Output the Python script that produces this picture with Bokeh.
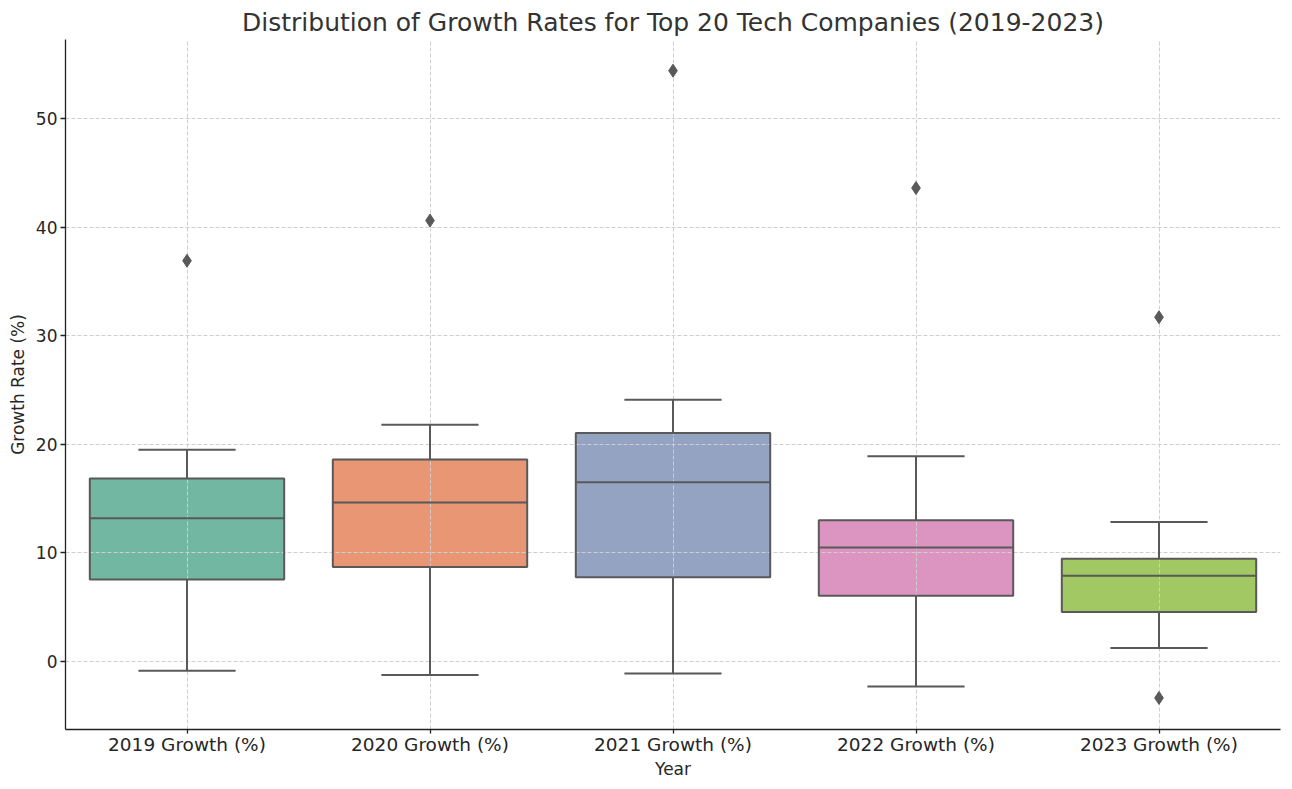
from bokeh.plotting import figure
from bokeh.models import FactorRange, Range1d, FixedTicker, ColumnDataSource
from bokeh.transform import dodge
from bokeh.embed import file_html
from bokeh.resources import INLINE

categories = ["2019 Growth (%)", "2020 Growth (%)", "2021 Growth (%)", "2022 Growth (%)", "2023 Growth (%)"]
whisker_low = [-0.85, -1.25, -1.1, -2.3, 1.25]
q1 = [7.55, 8.7, 7.75, 6.05, 4.55]
median = [13.2, 14.65, 16.5, 10.5, 7.9]
q3 = [16.85, 18.6, 21.05, 13.0, 9.45]
whisker_high = [19.5, 21.8, 24.1, 18.9, 12.85]
outlier_cat = ["2019 Growth (%)", "2020 Growth (%)", "2021 Growth (%)", "2022 Growth (%)", "2023 Growth (%)", "2023 Growth (%)"]
outlier_val = [36.9, 40.6, 54.4, 43.6, 31.7, -3.35]
colors = ["#71b7a1", "#e99675", "#95a3c3", "#db95c0", "#a2c864"]

LINE = "#595959"
FONT = "DejaVu Sans"

p = figure(frame_width=1215, frame_height=690, x_range=FactorRange(*categories, range_padding=0),
           y_range=Range1d(-6.26, 57.27), output_backend="svg", toolbar_location=None,
           min_border_left=65, min_border_right=4, min_border_top=39, min_border_bottom=48)

p.title.text = "Distribution of Growth Rates for Top 20 Tech Companies (2019-2023)"
p.title.align = "center"
p.title.text_font = FONT
p.title.text_font_size = "25px"
p.title.text_font_style = "normal"
p.title.text_color = "#333333"
p.title.offset = 0
p.title.standoff = 6

src = ColumnDataSource(dict(cat=categories, lo=whisker_low, q1=q1, med=median, q3=q3, hi=whisker_high, color=colors))

p.vbar(x="cat", width=0.8, bottom="q1", top="q3", fill_color="color", line_color=None, source=src, level="image")
p.segment(x0="cat", y0="lo", x1="cat", y1="q1", line_color=LINE, line_width=2, source=src)
p.segment(x0="cat", y0="q3", x1="cat", y1="hi", line_color=LINE, line_width=2, source=src)
p.vbar(x="cat", width=0.8, bottom="q1", top="q3", fill_color=None, line_color=LINE, line_width=2, source=src)
p.segment(x0=dodge("cat", -0.4, range=p.x_range), x1=dodge("cat", 0.4, range=p.x_range), y0="med", y1="med",
          line_color=LINE, line_width=2, source=src)
p.segment(x0=dodge("cat", -0.2, range=p.x_range), x1=dodge("cat", 0.2, range=p.x_range), y0="lo", y1="lo",
          line_color=LINE, line_width=2, source=src)
p.segment(x0=dodge("cat", -0.2, range=p.x_range), x1=dodge("cat", 0.2, range=p.x_range), y0="hi", y1="hi",
          line_color=LINE, line_width=2, source=src)
p.scatter(x=outlier_cat, y=outlier_val, marker="diamond", size=13, fill_color=LINE, line_color=LINE)

p.outline_line_color = None
p.background_fill_color = "white"
p.border_fill_color = "white"

for g in (p.xgrid, p.ygrid):
    g.grid_line_color = "#cfcfcf"
    g.grid_line_dash = "4 2"
    g.grid_line_width = 1
    g.level = "underlay"

p.yaxis.ticker = FixedTicker(ticks=[0, 10, 20, 30, 40, 50])
p.yaxis.minor_tick_line_color = None

for ax in (p.xaxis, p.yaxis):
    ax.axis_line_color = "#222222"
    ax.axis_line_width = 1.3
    ax.major_tick_line_color = "#222222"
    ax.major_tick_line_width = 1.3
    ax.major_tick_out = 5
    ax.major_tick_in = 0
    ax.major_label_text_font = FONT
    ax.major_label_text_color = "#262626"
    ax.axis_label_text_font = FONT
    ax.axis_label_text_font_size = "17px"
    ax.axis_label_text_font_style = "normal"
    ax.axis_label_text_color = "#262626"

p.xaxis.major_label_text_font_size = "18.5px"
p.yaxis.major_label_text_font_size = "17px"
p.xaxis.axis_label = "Year"
p.yaxis.axis_label = "Growth Rate (%)"
p.xaxis.major_tick_out = 4
p.xaxis.major_label_standoff = 0
p.xaxis.axis_label_standoff = 1
p.yaxis.major_label_standoff = 3
p.yaxis.axis_label_standoff = 5

open("out.html", "w").write(file_html(p, INLINE))
